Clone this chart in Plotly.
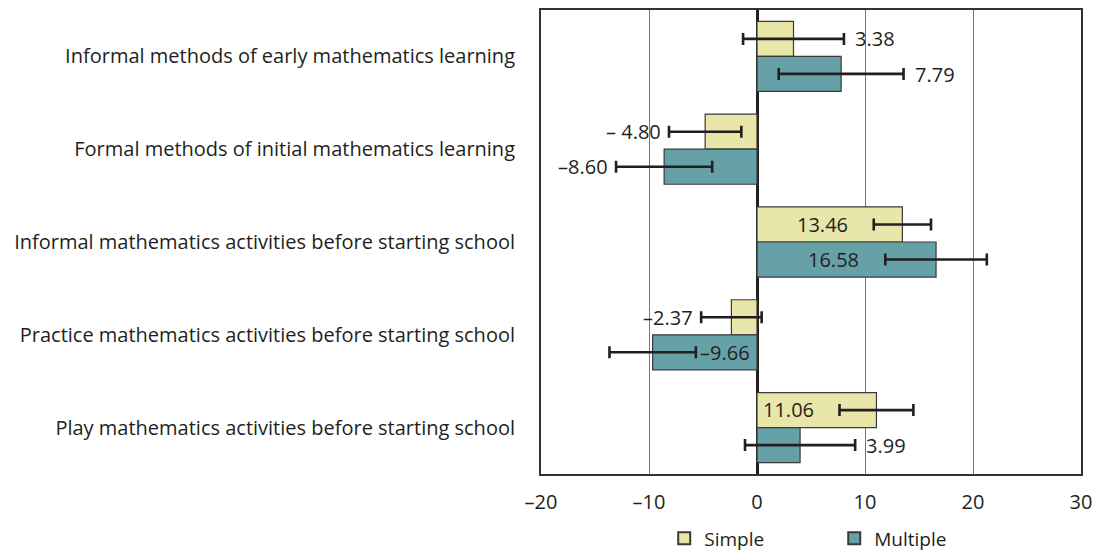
import plotly.graph_objects as go

categories = [
    "Informal methods of early mathematics learning",
    "Formal methods of initial mathematics learning",
    "Informal mathematics activities before starting school",
    "Practice mathematics activities before starting school",
    "Play mathematics activities before starting school",
]
simple_vals = [3.38, -4.80, 13.46, -2.37, 11.06]
simple_err = [4.67, 3.35, 2.65, 2.80, 3.42]
multiple_vals = [7.79, -8.60, 16.58, -9.66, 3.99]
multiple_err = [5.78, 4.45, 4.70, 4.00, 5.10]
simple_text = ["3.38", "\u2013 4.80", "13.46", "\u20132.37", "11.06"]
multiple_text = ["7.79", "\u20138.60", "16.58", "\u20139.66", "3.99"]
tick_vals = [-20, -10, 0, 10, 20, 30]
tick_text = ["\u201320", "\u201310", "0", "10", "20", "30"]

FONT = "Open Sans"
TXT = "#231f20"
SIMPLE_C = "#e8e6a8"
MULT_C = "#66a1a8"

fig = go.Figure()
fig.add_trace(go.Bar(
    name="Simple", y=categories, x=simple_vals, orientation="h",
    marker=dict(color=SIMPLE_C, line=dict(color="#3a3a3a", width=1.2)),
    error_x=dict(type="data", array=simple_err, color=TXT, thickness=2.6, width=6),
))
fig.add_trace(go.Bar(
    name="Multiple", y=categories, x=multiple_vals, orientation="h",
    marker=dict(color=MULT_C, line=dict(color="#3a3a3a", width=1.2)),
    error_x=dict(type="data", array=multiple_err, color=TXT, thickness=2.6, width=6),
))

# data labels placed relative to error-bar ends
def add_labels(vals, errs, texts, offset):
    for i, (v, e, t) in enumerate(zip(vals, errs, texts)):
        big = abs(v) > 9
        if v >= 0:
            if big:
                x, anchor, shift = v - e, "right", -24
            else:
                x, anchor, shift = v + e, "left", 9
        else:
            if big:
                x, anchor, shift = v + e, "left", 2
            else:
                x, anchor, shift = v - e, "right", -6
        fig.add_annotation(
            x=x, y=i + offset, xref="x", yref="y", text=t, showarrow=False,
            xanchor=anchor, yanchor="middle", xshift=shift,
            font=dict(family=FONT, size=20, color=TXT),
        )

fig.update_layout(
    barmode="group", bargap=0.245, bargroupgap=0,
    width=1105, height=549,
    margin=dict(l=533, r=32, t=2, b=83, autoexpand=False),
    paper_bgcolor="white", plot_bgcolor="white",
    font=dict(family=FONT, size=20, color=TXT),
    showlegend=True,
    legend=dict(orientation="h", x=0.543, xanchor="center", y=-0.098, yanchor="top",
                font=dict(family=FONT, size=19, color=TXT),
                entrywidth=125, entrywidthmode="pixels", traceorder="normal",
                tracegroupgap=0, itemsizing="constant"),
    xaxis=dict(range=[-20, 30], tickvals=tick_vals, ticktext=tick_text,
               showgrid=True, gridcolor="#777777", gridwidth=1,
               zeroline=True, zerolinecolor=TXT, zerolinewidth=2.5,
               showline=True, linecolor="#333333", linewidth=2, mirror=True,
               ticks="", ticklabelstandoff=9,
               tickfont=dict(family=FONT, size=20, color=TXT)),
    yaxis=dict(autorange="reversed", showgrid=False, zeroline=False,
               showline=True, linecolor="#333333", linewidth=2, mirror=True,
               ticks="", ticklabelstandoff=20,
               tickfont=dict(family=FONT, size=20, color=TXT)),
)

fig.update_yaxes(type="category")
add_labels(simple_vals, simple_err, simple_text, -0.19)
add_labels(multiple_vals, multiple_err, multiple_text, 0.19)

fig.write_html("out.html")
